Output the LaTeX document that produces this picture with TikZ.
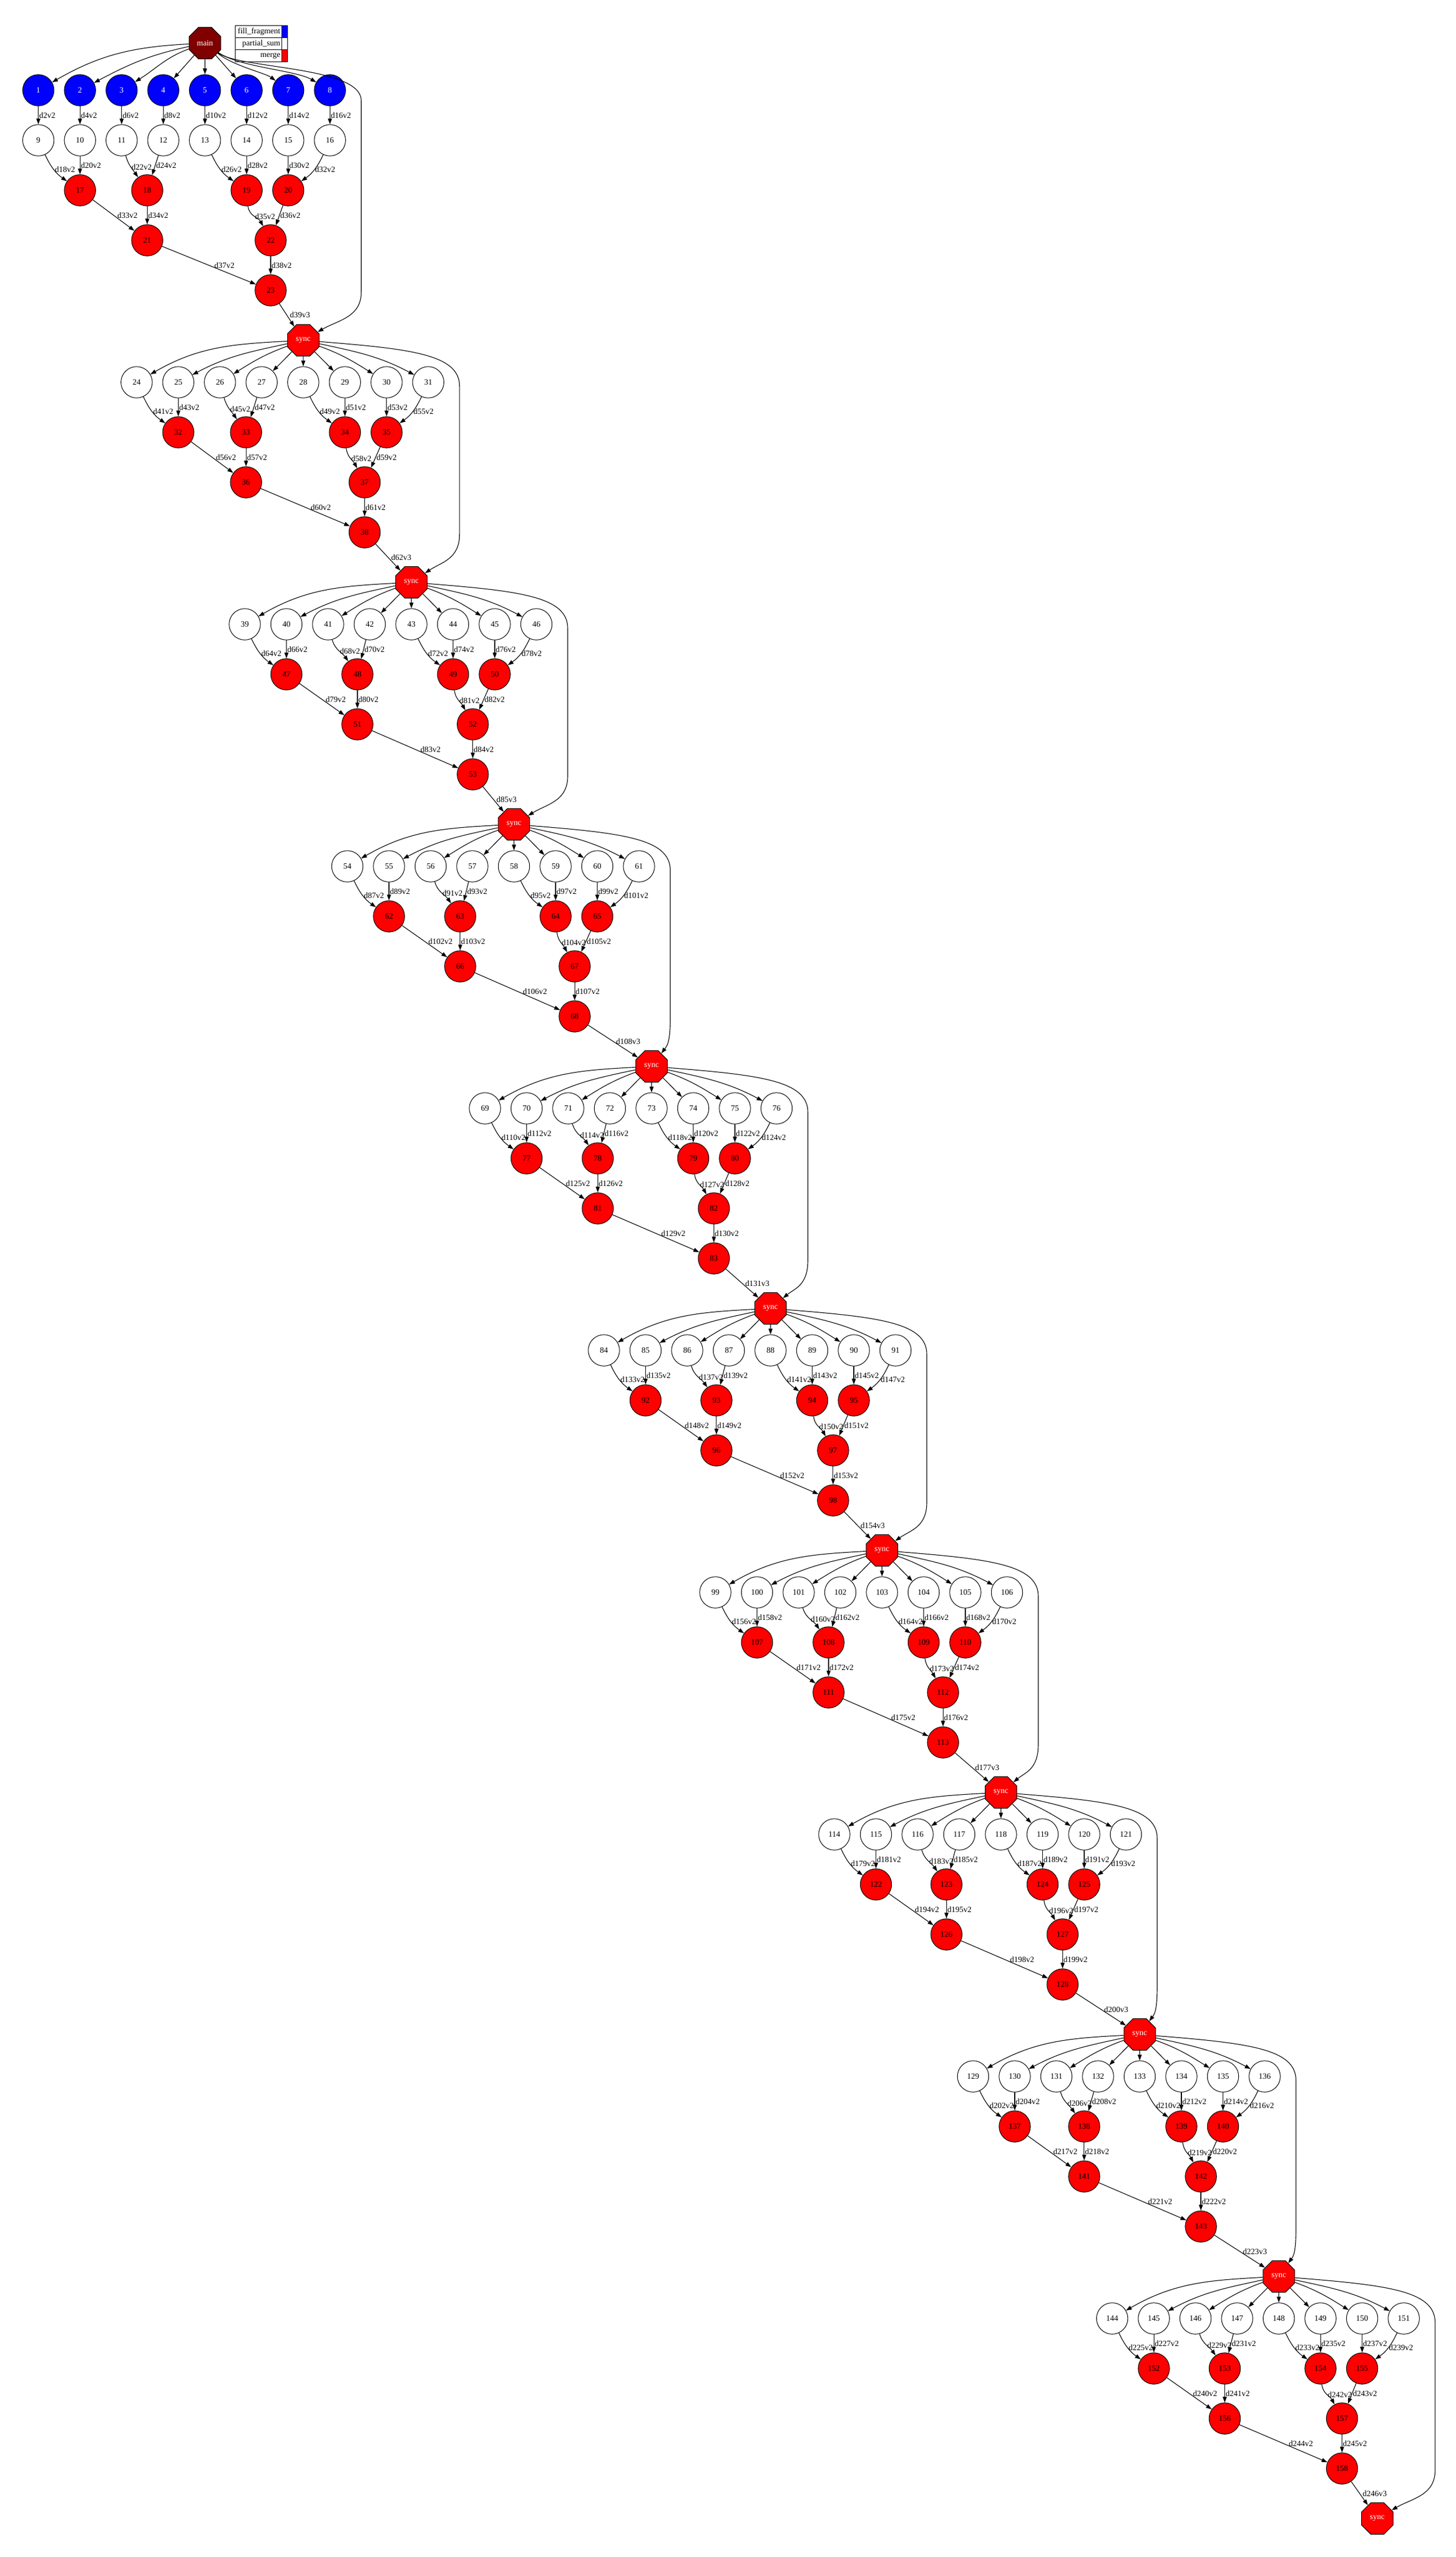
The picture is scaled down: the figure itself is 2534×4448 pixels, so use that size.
\documentclass[tikz,border=0pt]{standalone}
\usepackage{fontspec}
\setmainfont{Liberation Serif}
\usetikzlibrary{shapes.geometric,arrows.meta}
\definecolor{maroonc}{RGB}{128,0,0}
\tikzset{
 nbase/.style={draw=black, line width=1pt, inner sep=0pt, font=\fontsize{14}{16}\selectfont},
 wn/.style={nbase, circle, minimum size=54.5pt, fill=white},
 bn/.style={nbase, circle, minimum size=54.5pt, fill=blue, text=white},
 rn/.style={nbase, circle, minimum size=54.5pt, fill=red},
 sn/.style={nbase, regular polygon, regular polygon sides=8, minimum size=59.5pt, fill=red, text=white},
 mn/.style={sn, fill=maroonc},
 edg/.style={draw=black, line width=1.1pt, -{Triangle[length=10pt,width=7pt]}},
 lb/.style={font=\fontsize{14}{16}\selectfont, inner sep=1pt, anchor=west},
 lgt/.style={font=\fontsize{14}{16}\selectfont, inner sep=0pt, anchor=east},
}
% #1 first white, #2 label base, #3 Cx, #4 Wy, #5 bx, #6 fx, #7 next sync
\newcommand\blk[7]{%
 \pgfmathsetmacro\qyw{-#4}%
 \pgfmathsetmacro\qya{-(#4+87)}%
 \pgfmathsetmacro\qyb{-(#4+174)}%
 \pgfmathsetmacro\qyc{-(#4+261)}%
 \foreach \qi in {0,...,7}{%
   \pgfmathtruncatemacro\qnn{#1+\qi}%
   \node[wn] (n\qnn) at ({#3+(\qi-4)*72.5},\qyw) {\qnn};%
 }%
 \pgfmathtruncatemacro\qwa{#1}\pgfmathtruncatemacro\qwb{#1+1}%
 \pgfmathtruncatemacro\qwc{#1+2}\pgfmathtruncatemacro\qwd{#1+3}%
 \pgfmathtruncatemacro\qwe{#1+4}\pgfmathtruncatemacro\qwf{#1+5}%
 \pgfmathtruncatemacro\qwg{#1+6}\pgfmathtruncatemacro\qwh{#1+7}%
 \pgfmathtruncatemacro\qma{#1+8}\pgfmathtruncatemacro\qmb{#1+9}%
 \pgfmathtruncatemacro\qmc{#1+10}\pgfmathtruncatemacro\qmd{#1+11}%
 \pgfmathtruncatemacro\qme{#1+12}\pgfmathtruncatemacro\qmf{#1+13}%
 \pgfmathtruncatemacro\qmg{#1+14}%
 \pgfmathtruncatemacro\qla{#2+2}\pgfmathtruncatemacro\qlb{#2+4}%
 \pgfmathtruncatemacro\qlc{#2+6}\pgfmathtruncatemacro\qld{#2+8}%
 \pgfmathtruncatemacro\qle{#2+10}\pgfmathtruncatemacro\qlf{#2+12}%
 \pgfmathtruncatemacro\qlg{#2+14}\pgfmathtruncatemacro\qlh{#2+16}%
 \pgfmathtruncatemacro\qli{#2+17}\pgfmathtruncatemacro\qlj{#2+18}%
 \pgfmathtruncatemacro\qlk{#2+19}\pgfmathtruncatemacro\qll{#2+20}%
 \pgfmathtruncatemacro\qlm{#2+21}\pgfmathtruncatemacro\qln{#2+22}%
 \pgfmathtruncatemacro\qlo{#2+23}%
 \node[rn] (n\qma) at ({#3-217.5},\qya) {\qma};%
 \node[rn] (n\qmb) at (#5,\qya) {\qmb};%
 \node[rn] (n\qmc) at ({#3+72.5},\qya) {\qmc};%
 \node[rn] (n\qmd) at ({#3+145},\qya) {\qmd};%
 \node[rn] (n\qme) at (#5,\qyb) {\qme};%
 \node[rn] (n\qmf) at (#6,\qyb) {\qmf};%
 \node[rn] (n\qmg) at (#6,\qyc) {\qmg};%
 \draw[edg] (n\qwa) to[out=-65,in=145] node[lb]{d\qla v2} (n\qma);%
 \draw[edg] (n\qwb) -- node[lb]{d\qlb v2} (n\qma);%
 \draw[edg] (n\qwc) to[out=-75,in=125] node[lb]{d\qlc v2} (n\qmb);%
 \draw[edg] (n\qwd) -- node[lb]{d\qld v2} (n\qmb);%
 \draw[edg] (n\qwe) to[out=-65,in=145] node[lb]{d\qle v2} (n\qmc);%
 \draw[edg] (n\qwf) -- node[lb]{d\qlf v2} (n\qmc);%
 \draw[edg] (n\qwg) -- node[lb]{d\qlg v2} (n\qmd);%
 \draw[edg] (n\qwh) to[out=-115,in=35] node[lb]{d\qlh v2} (n\qmd);%
 \draw[edg] (n\qma) -- node[lb,xshift=5pt]{d\qli v2} (n\qme);%
 \draw[edg] (n\qmb) -- node[lb]{d\qlj v2} (n\qme);%
 \draw[edg] (n\qmc) to[out=-85,in=118] node[lb]{d\qlk v2} (n\qmf);%
 \draw[edg] (n\qmd) -- node[lb]{d\qll v2} (n\qmf);%
 \draw[edg] (n\qme) -- node[lb,xshift=8pt]{d\qlm v2} (n\qmg);%
 \draw[edg] (n\qmf) -- node[lb]{d\qln v2} (n\qmg);%
 \draw[edg] (n\qmg) -- node[lb,xshift=4pt]{d\qlo v3} (#7);%
}
% #1 sync name, #2 first white
\newcommand\fan[2]{%
 \pgfmathtruncatemacro\qfa{#2}\pgfmathtruncatemacro\qfb{#2+1}%
 \pgfmathtruncatemacro\qfc{#2+2}\pgfmathtruncatemacro\qfd{#2+3}%
 \pgfmathtruncatemacro\qfe{#2+4}\pgfmathtruncatemacro\qff{#2+5}%
 \pgfmathtruncatemacro\qfg{#2+6}\pgfmathtruncatemacro\qfh{#2+7}%
 \draw[edg] (#1) to[out=183,in=30] (n\qfa);%
 \draw[edg] (#1) to[out=192,in=28] (n\qfb);%
 \draw[edg] (#1) to[out=200,in=32] (n\qfc);%
 \draw[edg] (#1) -- (n\qfd);%
 \draw[edg] (#1) -- (n\qfe);%
 \draw[edg] (#1) -- (n\qff);%
 \draw[edg] (#1) to[out=-20,in=148] (n\qfg);%
 \draw[edg] (#1) to[out=-12,in=152] (n\qfh);%
}
% #1 Sx #2 Sy #3 Sx next #4 Sy next #5 from #6 to
\newcommand\longe[6]{%
 \draw[edg] (#5) .. controls ({#1+190},{-(#2+15)}) and ({#1+272},{-(#2+25)}) .. ({#1+272},{-(#2+80)})
   -- ({#1+272},{-(#4-84)}) .. controls ({#1+272},{-(#4-40)}) and ({0.5*(#1+272+#3)+10},{-(#4-35)}) .. (#6);%
}
\begin{document}
\begin{tikzpicture}[x=1pt,y=1pt]
\useasboundingbox[fill=white] (0,0) rectangle (2534,-4448);
% sync nodes
\node[mn] (s0) at (356.7,-75) {main};
\node[sn] (s1) at (527.8,-592) {sync};
\node[sn] (s2) at (716,-1013) {sync};
\node[sn] (s3) at (894.5,-1434) {sync};
\node[sn] (s4) at (1134,-1855) {sync};
\node[sn] (s5) at (1341,-2276) {sync};
\node[sn] (s6) at (1535,-2697) {sync};
\node[sn] (s7) at (1742,-3118) {sync};
\node[sn] (s8) at (1983.5,-3539) {sync};
\node[sn] (s9) at (2225.6,-3960) {sync};
\node[sn] (s10) at (2397,-4381) {sync};
% legend
\fill[blue] (490.5,-44.9) rectangle (500.3,-65.8);
\fill[red] (490.5,-86.8) rectangle (500.3,-107.7);
\draw[line width=1pt] (409.7,-44.9) rectangle (500.3,-107.7);
\draw[line width=1pt] (409.7,-65.8) -- (500.3,-65.8);
\draw[line width=1pt] (409.7,-86.8) -- (500.3,-86.8);
\draw[line width=1pt] (490.5,-44.9) -- (490.5,-107.7);
\node[lgt] (lg1) at (488,-55.3) {fill\_fragment};
\node[lgt] (lg2) at (488,-76.3) {partial\_sum};
\node[lgt] (lg3) at (488,-97.2) {merge};
% block 0
\foreach \i in {1,...,8}{\node[bn] (n\i) at ({356.7+(\i-5)*72.5},-157) {\i};}
\blk{9}{16}{356.7}{244}{256.2}{471}{s1}
\foreach \i in {1,...,8}{\pgfmathtruncatemacro\qtt{\i+8}\pgfmathtruncatemacro\qlq{2*\i}%
  \draw[edg] (n\i) -- node[lb]{d\qlq v2} (n\qtt);}
\draw[edg] (s0) to[out=183,in=30] (n1);
\draw[edg] (s0) to[out=192,in=28] (n2);
\draw[edg] (s0) to[out=200,in=32] (n3);
\draw[edg] (s0) -- (n4);
\draw[edg] (s0) -- (n5);
\draw[edg] (s0) -- (n6);
\draw[edg] (s0) .. controls +(50,-40) and +(-40,30) .. (n7);
\draw[edg] (s0) .. controls +(60,-42) and +(-60,35) .. (n8);
\draw[edg] (s0) .. controls (416.7,-120) and (628.7,-115) .. (628.7,-175) -- (628.7,-508)
   .. controls (628.7,-552) and (588.2,-557) .. (s1);
% blocks
\blk{24}{39}{527.8}{665}{428.2}{634.6}{s2}
\blk{39}{62}{716}{1086}{622}{822.8}{s3}
\blk{54}{85}{894.5}{1507}{800.9}{1000.1}{s4}
\blk{69}{108}{1134}{1928}{1040.3}{1242.4}{s5}
\blk{84}{131}{1341}{2349}{1246.9}{1449.9}{s6}
\blk{99}{154}{1535}{2770}{1442}{1641.2}{s7}
\blk{114}{177}{1742}{3191}{1647.2}{1849.3}{s8}
\blk{129}{200}{1983.5}{3612}{1886.9}{2090}{s9}
\blk{144}{223}{2225.6}{4033}{2131.5}{2335.6}{s10}
\fan{s1}{24}
\fan{s2}{39}
\fan{s3}{54}
\fan{s4}{69}
\fan{s5}{84}
\fan{s6}{99}
\fan{s7}{114}
\fan{s8}{129}
\fan{s9}{144}
\longe{527.8}{592}{716}{1013}{s1}{s2}
\longe{716}{1013}{894.5}{1434}{s2}{s3}
\longe{894.5}{1434}{1134}{1855}{s3}{s4}
\longe{1134}{1855}{1341}{2276}{s4}{s5}
\longe{1341}{2276}{1535}{2697}{s5}{s6}
\longe{1535}{2697}{1742}{3118}{s6}{s7}
\longe{1742}{3118}{1983.5}{3539}{s7}{s8}
\longe{1983.5}{3539}{2225.6}{3960}{s8}{s9}
\longe{2225.6}{3960}{2397}{4381}{s9}{s10}
\end{tikzpicture}
\end{document}
